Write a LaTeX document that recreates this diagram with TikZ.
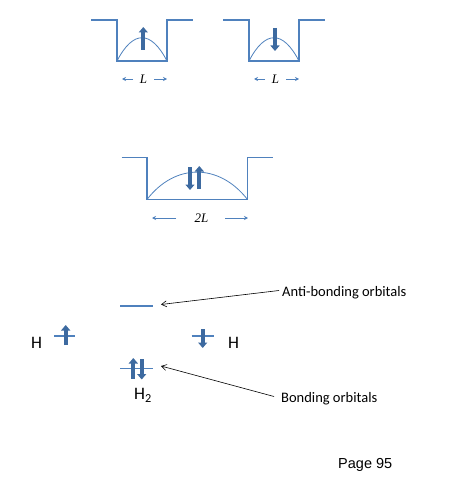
\documentclass[tikz,border=0pt]{standalone}
\usepackage{fontspec}
\setmainfont{Carlito}
\newfontfamily\timesf{Liberation Serif}
\newfontfamily\arialf{Liberation Sans}
\usetikzlibrary{arrows.meta}
\definecolor{wellblue}{HTML}{4F81BD}
\definecolor{spinblue}{HTML}{3D6AA0}
\tikzset{
  well/.style={draw=wellblue, line width=1.8pt, line join=miter},
  wave/.style={draw=wellblue, line width=0.8pt},
  spin/.style={draw=spinblue, line width=4pt, -{Triangle[width=9pt,length=5.5pt]}, shorten >=-1pt},
  level/.style={draw=wellblue, line width=1.8pt},
  dimarrow/.style={draw=wellblue, line width=0.8pt, -{Stealth[length=4pt,width=4pt]}},
  lab/.style={inner sep=0pt, font=\fontsize{14.5}{16}\selectfont},
  atom/.style={inner sep=0pt, font=\fontsize{17.5}{19}\selectfont},
  dim/.style={inner sep=0pt, font=\timesf\itshape\fontsize{13}{15}\selectfont},
  ann/.style={draw=black, line width=0.6pt, -{Straight Barb[length=5pt,width=6pt]}}
}
\begin{document}
\begin{tikzpicture}[x=1pt,y=-1pt]
\useasboundingbox (0,0) rectangle (466,492);
% Well 1
\draw[well] (91,20) -- (117,20) -- (117,61) -- (167,61) -- (167,20) -- (193,20);
\draw[wave] (117,61) .. controls (133,30) and (151,30) .. (167,61);
\draw[spin] (143.3,50) -- (143.3,28);
\node[dim] (L1) at (143.5,79) {L};
\coordinate (L1a) at (133,79); \coordinate (L1b) at (122,79);
\coordinate (L1c) at (154,79); \coordinate (L1d) at (167,79);
\draw[dimarrow] (L1a) -- (L1b);
\draw[dimarrow] (L1c) -- (L1d);
% Well 2
\draw[well] (223,20) -- (249,20) -- (249,61) -- (299,61) -- (299,20) -- (325,20);
\draw[wave] (249,61) .. controls (265,30) and (283,30) .. (299,61);
\draw[spin] (275,28) -- (275,50);
\node[dim] (L2) at (275.5,79) {L};
\coordinate (L2a) at (265,79); \coordinate (L2b) at (254,79);
\coordinate (L2c) at (286,79); \coordinate (L2d) at (299,79);
\draw[dimarrow] (L2a) -- (L2b);
\draw[dimarrow] (L2c) -- (L2d);
% Double well
\draw[well] (121.5,157.5) -- (147,157.5) -- (147,199.5) -- (247.5,199.5) -- (247.5,157.5) -- (273,157.5);
\draw[wave] (147,199.5) .. controls (175,163) and (219,163) .. (247.5,199.5);
\draw[spin] (190,167) -- (190,189);
\draw[spin] (199.3,189) -- (199.3,167);
\node[dim] (L3) at (201.5,218) {2L};
\coordinate (L3a) at (176,218); \coordinate (L3b) at (152,218);
\coordinate (L3c) at (225,218); \coordinate (L3d) at (248,218);
\draw[dimarrow] (L3a) -- (L3b);
\draw[dimarrow] (L3c) -- (L3d);
% MO diagram
\node[atom] (HL) at (36.5,342.5) {H};
\draw[level] (54,336) -- (75,336);
\draw[spin] (65.7,345) -- (65.7,326);
\draw[level] (120,306) -- (152.5,306);
\draw[level] (191.5,336) -- (213.5,336);
\draw[spin] (202.7,329) -- (202.7,347);
\node[atom] (HR) at (233.5,342.5) {H};
\draw[level] (120,368.5) -- (152.5,368.5);
\draw[spin] (133.3,378.5) -- (133.3,359);
\draw[spin] (141.7,359) -- (141.7,378.5);
\node[atom] (H2) at (143,395.5) {H\textsubscript{2}};
\coordinate (ab) at (161,304.5);
\coordinate (bo) at (161,366);
\node[lab, anchor=west] (abt) at (282,292.5) {Anti-bonding orbitals};
\node[lab, anchor=west] (bot) at (281,398.5) {Bonding orbitals};
\draw[ann] (abt.west) ++(-3,-2) -- (ab);
\draw[ann] (bot.west) ++(-7,-2) -- (bo);
\node[inner sep=0pt, anchor=west, font=\arialf\fontsize{14.5}{16}\selectfont] (pg) at (338,465) {Page 95};
\end{tikzpicture}
\end{document}
